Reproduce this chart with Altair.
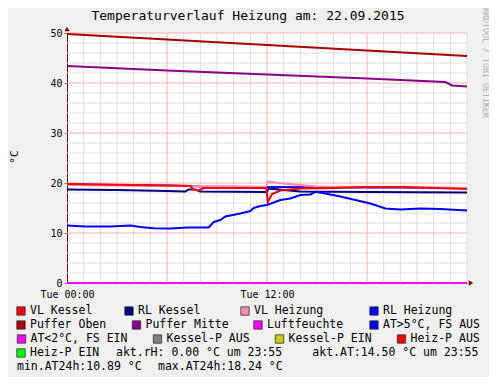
import altair as alt
import pandas as pd

# ---------------- data ----------------
title_text = "Temperaturverlauf Heizung am: 22.09.2015"
y_title = "°C"
watermark = "RRDTOOL / TOBI OETIKER"

x_tick_vals = [0, 12]
x_tick_labels = ["Tue 00:00", "Tue 12:00"]
y_tick_vals = [0, 10, 20, 30, 40, 50]

h_puffer_oben = [0, 6, 12, 18, 24]
v_puffer_oben = [49.8, 48.7, 47.6, 46.5, 45.4]

h_puffer_mitte = [0, 6, 12, 18, 22.7, 23.1, 24]
v_puffer_mitte = [43.4, 42.5, 41.7, 40.9, 40.2, 39.5, 39.3]

h_rl_heizung = [0, 6, 7.5, 8, 12, 18, 24]
v_rl_heizung = [19.7, 19.5, 19.4, 19.3, 19.2, 19.1, 19.0]

h_vl_heizung = [0, 6, 11.95, 12.05, 13, 15, 18, 24]
v_vl_heizung = [19.6, 19.4, 19.2, 20.3, 19.9, 19.3, 19.2, 19.0]

h_rl_kessel = [0, 3, 6, 7.1, 7.3, 7.7, 8.0, 12, 12.1, 13, 14, 18, 24]
v_rl_kessel = [18.7, 18.6, 18.4, 18.3, 18.7, 18.7, 18.3, 18.2, 18.9, 18.6, 18.3, 18.2, 18.1]

h_vl_kessel = [0, 2, 4, 6, 7.4, 7.6, 7.9, 8.2, 10, 11.95, 12.05, 12.3, 12.8, 14, 16, 17, 18, 20, 22, 23, 24]
v_vl_kessel = [19.8, 19.7, 19.6, 19.5, 19.4, 18.7, 18.5, 19.0, 19.0, 19.0, 16.2, 17.8, 18.5, 18.9, 19.0, 19.1, 19.2, 19.2, 19.0, 18.9, 18.8]

h_at = [0, 1.1, 2.6, 3.8, 4.4, 5.2, 6.2, 7.2, 8.5, 8.8, 9.2, 9.5, 10.4, 11.0, 11.2, 11.6, 12.0,
        12.8, 13.4, 14.0, 14.6, 14.9, 15.5, 16.4, 17.3, 18.2, 19.1, 20.0, 21.2, 22.4, 24]
v_at = [11.5, 11.3, 11.3, 11.5, 11.2, 10.95, 10.89, 11.1, 11.1, 12.2, 12.6, 13.3, 13.9, 14.4, 15.0, 15.4, 15.6,
        16.6, 16.9, 17.6, 17.7, 18.24, 17.9, 17.3, 16.6, 15.9, 14.9, 14.7, 14.9, 14.8, 14.5]

h_luft = [0, 24]
v_luft = [0, 0]

series_names = ["Puffer Oben", "Puffer Mitte", "RL Heizung", "VL Heizung",
                "RL Kessel", "VL Kessel", "AT", "Luftfeuchte"]
series_colors = ["#AA0000", "#880088", "#0000FF", "#FF8CA8",
                 "#000080", "#FF0000", "#0000FF", "#FF00FF"]
series_h = [h_puffer_oben, h_puffer_mitte, h_rl_heizung, h_vl_heizung,
            h_rl_kessel, h_vl_kessel, h_at, h_luft]
series_v = [v_puffer_oben, v_puffer_mitte, v_rl_heizung, v_vl_heizung,
            v_rl_kessel, v_vl_kessel, v_at, v_luft]

legend_labels = ["VL Kessel", "RL Kessel", "VL Heizung", "RL Heizung",
                 "Puffer Oben", "Puffer Mitte", "Luftfeuchte", "AT>5°C, FS AUS",
                 "AT<2°C, FS EIN", "Kessel-P AUS", "Kessel-P EIN", "Heiz-P AUS",
                 "Heiz-P EIN"]
legend_colors = ["#FF0000", "#000080", "#FF8CA8", "#0000FF",
                 "#AA0000", "#880088", "#FF00FF", "#0000FF",
                 "#FF00FF", "#808080", "#CCCC00", "#FF0000",
                 "#00FF00"]
info_texts = ["akt.rH: 0.00 °C um 23:55", "akt.AT:14.50 °C um 23:55",
              "min.AT24h:10.89 °C", "max.AT24h:18.24 °C"]

# grid positions
x_minor = [h for h in range(1, 25) if h % 6 != 0] + [24]
x_major = [6, 12, 18]
y_minor = [v for v in range(2, 50, 2) if v % 10 != 0]
y_major = [10, 20, 30, 40, 50]

# ---------------- layout (pixels, plot frame) ----------------
legend_text_x = [30, 138, 254, 383,
                 30, 145.5, 267, 383,
                 30.5, 166.5, 288.5, 410.5,
                 30]
legend_row = [0, 0, 0, 0, 1, 1, 1, 1, 2, 2, 2, 2, 3]
row_y = [311, 325, 339, 353, 367]
info_x = [116, 312.3, 17, 158]
info_row = [3, 3, 4, 4]
OX, OY = 67, 33  # plot origin in the reference picture

FONT = "DejaVu Sans Mono"
AXIS_RED = "#800000"

rows = []
for name, hs, vs in zip(series_names, series_h, series_v):
    for h, v in zip(hs, vs):
        rows.append({"series": name, "h": h, "v": v})
df = pd.DataFrame(rows)

leg_df = pd.DataFrame({
    "label": legend_labels,
    "color": legend_colors,
    "tx": [x - OX for x in legend_text_x],
    "bx": [x - OX - 9 for x in legend_text_x],
    "py": [row_y[r] - OY for r in legend_row],
})
info_df = pd.DataFrame({
    "label": info_texts,
    "tx": [x - OX for x in info_x],
    "py": [row_y[r] - OY for r in info_row],
})

xs = alt.Scale(domain=[0, 24], nice=False, zero=False)
ys = alt.Scale(domain=[0, 50], nice=False)
label_expr = " : ".join(
    [f"datum.value == {v} ? '{l}'" for v, l in zip(x_tick_vals, x_tick_labels)] + ["''"]
)
x_axis = alt.Axis(values=x_tick_vals, labelExpr=label_expr, grid=False, ticks=False,
                  domainColor=AXIS_RED, labelPadding=6, labelFont=FONT, labelFontSize=10,
                  labelColor="#000000", title=None, labelBound=False, labelFlush=False)
y_axis = alt.Axis(values=y_tick_vals, grid=False, tickSize=3, tickColor="#808080",
                  domainColor=AXIS_RED, labelPadding=2, labelFont=FONT, labelFontSize=10,
                  labelColor="#000000", title=None)

X = alt.X("h:Q", scale=xs, axis=x_axis)
Y = alt.Y("v:Q", scale=ys, axis=y_axis)

grid_minor_x = alt.Chart(pd.DataFrame({"h": x_minor})).mark_rule(color="#DCDCDC", strokeWidth=1).encode(x=X)
grid_minor_y = alt.Chart(pd.DataFrame({"v": y_minor})).mark_rule(color="#DCDCDC", strokeWidth=1).encode(y=Y)
grid_major_x = alt.Chart(pd.DataFrame({"h": x_major})).mark_rule(color="#F5B0B0", strokeWidth=1).encode(x=X)
grid_major_y = alt.Chart(pd.DataFrame({"v": y_major})).mark_rule(color="#F5B0B0", strokeWidth=1).encode(y=Y)

lines = alt.Chart(df).mark_line(strokeWidth=2).encode(
    x=X, y=Y,
    color=alt.Color("series:N", scale=alt.Scale(domain=series_names, range=series_colors), legend=None),
    order=alt.Order("h:Q"),
)

one = pd.DataFrame({"t": [title_text]})
title = alt.Chart(one).mark_text(font=FONT, fontSize=13, align="center", baseline="middle",
                                 color="#000000").encode(
    text="t:N", x=alt.value(248 - OX), y=alt.value(16 - OY))

ylab = alt.Chart(pd.DataFrame({"t": [y_title]})).mark_text(
    font=FONT, fontSize=11, angle=270, align="center", baseline="middle", color="#000000").encode(
    text="t:N", x=alt.value(15 - OX), y=alt.value(157 - OY))

wm = alt.Chart(pd.DataFrame({"t": [watermark]})).mark_text(
    font=FONT, fontSize=8.3, angle=90, align="center", baseline="middle", color="#B0B0B0").encode(
    text="t:N", x=alt.value(484.5 - OX), y=alt.value(63 - OY))

arrow_x = alt.Chart(pd.DataFrame({"t": [1]})).mark_point(
    shape="triangle-right", filled=True, color=AXIS_RED, size=28, opacity=1).encode(
    x=alt.value(404), y=alt.value(250))
arrow_y = alt.Chart(pd.DataFrame({"t": [1]})).mark_point(
    shape="triangle-up", filled=True, color=AXIS_RED, size=28, opacity=1).encode(
    x=alt.value(0), y=alt.value(-4))

leg_box = alt.Chart(leg_df).mark_square(size=70, opacity=1, stroke="#303030", strokeWidth=0.8).encode(
    x=alt.X("bx:Q", scale=None, axis=None),
    y=alt.Y("py:Q", scale=None, axis=None),
    fill=alt.Fill("color:N", scale=None),
)
leg_text = alt.Chart(leg_df).mark_text(font=FONT, fontSize=11.5, align="left", baseline="middle",
                                       color="#000000").encode(
    x=alt.X("tx:Q", scale=None, axis=None),
    y=alt.Y("py:Q", scale=None, axis=None),
    text="label:N",
)
info_text = alt.Chart(info_df).mark_text(font=FONT, fontSize=11.5, align="left", baseline="middle",
                                         color="#000000").encode(
    x=alt.X("tx:Q", scale=None, axis=None),
    y=alt.Y("py:Q", scale=None, axis=None),
    text="label:N",
)

chart = alt.layer(
    grid_minor_x, grid_minor_y, grid_major_x, grid_major_y,
    lines, arrow_x, arrow_y,
    title, ylab, wm, leg_box, leg_text, info_text,
).properties(
    width=400, height=250,
    autosize=alt.AutoSizeParams(type="none"),
    padding={"left": 59, "top": 25, "right": 22, "bottom": 94},
    background="#F0F0F0",
).configure_view(fill="#FFFFFF", stroke=None)

chart.save("out.html", embed_options={"renderer": "svg", "actions": False})
